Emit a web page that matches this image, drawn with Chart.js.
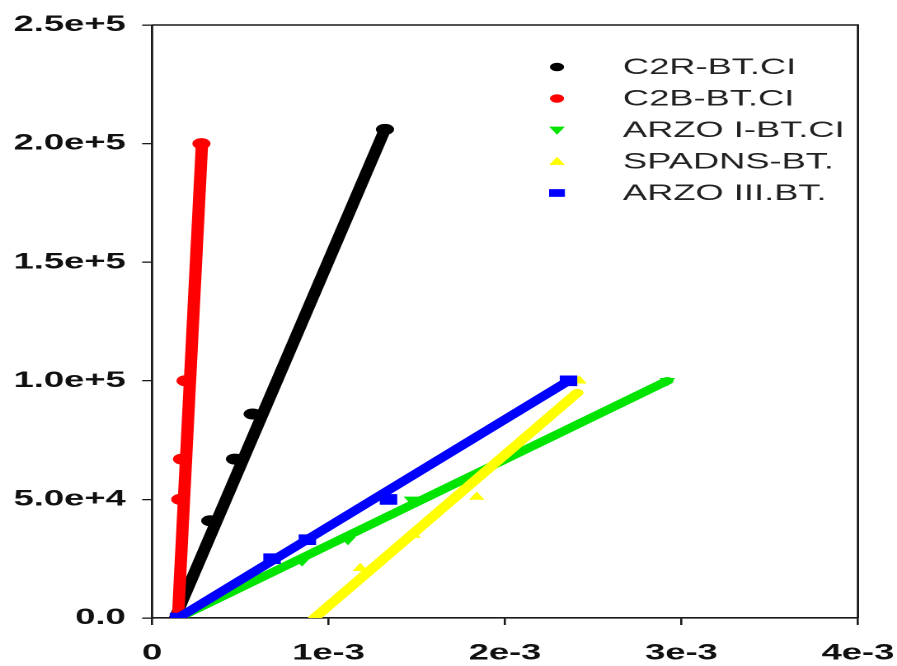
<!DOCTYPE html>
<html>
<head>
<meta charset="utf-8">
<script src="https://cdn.jsdelivr.net/npm/chart.js@4.4.1/dist/chart.umd.min.js"></script>
<style>
  html, body { margin: 0; padding: 0; background: #fff; overflow: hidden; }
  /* the plot is drawn narrow and widened sideways, like the exported figure */
  #wrap {
    width: 544px;
    height: 666px;
    transform: scaleX(1.6489);
    transform-origin: 0 0;
  }
</style>
</head>
<body>
<div id="wrap"><canvas id="plot" width="544" height="666"></canvas></div>
<script>
const X_TICKS = ['0', '1e-3', '2e-3', '3e-3', '4e-3'];
const Y_TICKS = ['0.0', '5.0e+4', '1.0e+5', '1.5e+5', '2.0e+5', '2.5e+5'];

const SERIES_NAMES  = ['C2R-BT.CI', 'C2B-BT.CI', 'ARZO I-BT.CI', 'SPADNS-BT.', 'ARZO III.BT.'];
const SERIES_COLORS = ['#000000', '#ff0000', '#00e400', '#ffff00', '#0000ff'];
const SERIES_SHAPES = ['circle', 'circle', 'triangle', 'triangle', 'rect'];
const SERIES_ROTATE = [0, 0, 180, 0, 0];

// measured points
const C2R_X   = [0.15e-3, 0.33e-3, 0.47e-3, 0.57e-3, 1.32e-3];
const C2R_Y   = [0, 4.1e4, 6.7e4, 8.6e4, 2.06e5];
const C2B_X   = [0.15e-3, 0.16e-3, 0.17e-3, 0.19e-3, 0.28e-3];
const C2B_Y   = [0, 5.0e4, 6.7e4, 1.0e5, 2.0e5];
const ARZO1_X = [0.15e-3, 0.85e-3, 1.11e-3, 1.47e-3, 2.92e-3];
const ARZO1_Y = [0, 2.4e4, 3.3e4, 5.0e4, 1.0e5];
const SPAD_X  = [0.93e-3, 1.18e-3, 1.48e-3, 1.84e-3, 2.42e-3];
const SPAD_Y  = [0, 2.1e4, 3.5e4, 5.1e4, 1.0e5];
const ARZO3_X = [0.15e-3, 0.68e-3, 0.88e-3, 1.34e-3, 2.36e-3];
const ARZO3_Y = [0, 2.5e4, 3.3e4, 5.0e4, 1.0e5];

// fitted lines, end to end
const C2R_FIT_X   = [0.13e-3, 1.32e-3];
const C2R_FIT_Y   = [0, 2.06e5];
const C2B_FIT_X   = [0.147e-3, 0.283e-3];
const C2B_FIT_Y   = [0, 2.0e5];
const ARZO1_FIT_X = [0.147e-3, 2.92e-3];
const ARZO1_FIT_Y = [0, 1.0e5];
const SPAD_FIT_X  = [0.92e-3, 2.41e-3];
const SPAD_FIT_Y  = [0, 9.5e4];
const ARZO3_FIT_X = [0.147e-3, 2.36e-3];
const ARZO3_FIT_Y = [0, 1.0e5];

const POINTS = [[C2R_X, C2R_Y], [C2B_X, C2B_Y], [ARZO1_X, ARZO1_Y], [SPAD_X, SPAD_Y], [ARZO3_X, ARZO3_Y]];
const FITS = [[C2R_FIT_X, C2R_FIT_Y], [C2B_FIT_X, C2B_FIT_Y], [ARZO1_FIT_X, ARZO1_FIT_Y],
              [SPAD_FIT_X, SPAD_FIT_Y], [ARZO3_FIT_X, ARZO3_FIT_Y]];
// stacking: blue on top, then yellow, red, black, green at the bottom
const LAYER = [4, 3, 5, 2, 1];

const FONT = "'Liberation Sans', Arial, sans-serif";
const AXIS_COLOR = '#1a1a1a';

const toXY = (xs, ys) => xs.map((x, i) => ({ x, y: ys[i] }));

const datasets = [];
SERIES_NAMES.forEach((name, i) => {
  datasets.push({
    label: name + ' fit',
    data: toXY(FITS[i][0], FITS[i][1]),
    showLine: true,
    borderColor: SERIES_COLORS[i],
    borderWidth: 7.5,
    borderCapStyle: 'round',
    pointRadius: 0,
    order: LAYER[i] * 2,
  });
  datasets.push({
    label: name,
    data: toXY(POINTS[i][0], POINTS[i][1]),
    showLine: false,
    pointStyle: SERIES_SHAPES[i],
    rotation: SERIES_ROTATE[i],
    pointRadius: SERIES_SHAPES[i] === 'rect' ? 7.5 : 5.5,
    pointBackgroundColor: SERIES_COLORS[i],
    pointBorderColor: SERIES_COLORS[i],
    pointBorderWidth: 0,
    order: LAYER[i] * 2 - 1,
  });
});

// closes the box on the top and right sides
const frame = {
  id: 'frame',
  afterDraw(chart) {
    const { ctx, chartArea: a } = chart;
    ctx.save();
    ctx.strokeStyle = AXIS_COLOR;
    ctx.lineWidth = 1.4;
    ctx.beginPath();
    ctx.moveTo(a.left, a.top);
    ctx.lineTo(a.right, a.top);
    ctx.lineTo(a.right, a.bottom);
    ctx.stroke();
    ctx.restore();
  },
};

function drawMarker(ctx, shape, rot, x, y, r) {
  ctx.beginPath();
  if (shape === 'circle') {
    ctx.arc(x, y, r, 0, Math.PI * 2);
  } else if (shape === 'rect') {
    ctx.rect(x - r, y - r * 0.8, r * 2, r * 1.6);
  } else {
    const d = rot === 180 ? -1 : 1;
    ctx.moveTo(x, y - d * r);
    ctx.lineTo(x + r, y + d * r * 0.7);
    ctx.lineTo(x - r, y + d * r * 0.7);
    ctx.closePath();
  }
  ctx.fill();
}

// legend in the upper right corner of the plot
const legendBox = {
  id: 'legendBox',
  afterDraw(chart) {
    const ctx = chart.ctx;
    const mx = 337.8, tx = 377.8, y0 = 67, dy = 31.5;
    ctx.save();
    ctx.font = '22px ' + FONT;
    ctx.textBaseline = 'middle';
    ctx.textAlign = 'left';
    SERIES_NAMES.forEach((name, i) => {
      const y = y0 + i * dy;
      ctx.fillStyle = SERIES_COLORS[i];
      drawMarker(ctx, SERIES_SHAPES[i], SERIES_ROTATE[i], mx, y, SERIES_SHAPES[i] === 'circle' ? 4.3 : 4.8);
      ctx.fillStyle = '#222';
      ctx.fillText(name, tx, y + 1);
    });
    ctx.restore();
  },
};

new Chart(document.getElementById('plot'), {
  type: 'scatter',
  data: { datasets },
  plugins: [frame, legendBox],
  options: {
    responsive: false,
    animation: false,
    devicePixelRatio: 2,
    layout: { padding: { top: 25, right: 23.7, bottom: 0, left: 0 } },
    plugins: {
      legend: { display: false },
      tooltip: { enabled: false },
    },
    scales: {
      x: {
        type: 'linear',
        min: 0,
        max: 4e-3,
        afterFit: s => { s.height = 48; s.paddingLeft = 0; s.paddingRight = 0; },
        afterBuildTicks: s => { s.ticks = X_TICKS.map((_, i) => ({ value: i * 1e-3 })); },
        ticks: {
          callback: (v, i) => X_TICKS[i],
          color: '#111',
          font: { family: FONT, size: 22, weight: 'bold' },
          padding: 15,
          maxRotation: 0,
          autoSkip: false,
        },
        grid: { drawOnChartArea: false, tickLength: 7, color: AXIS_COLOR, lineWidth: 1.3 },
        border: { display: true, color: AXIS_COLOR, width: 1.6 },
      },
      y: {
        type: 'linear',
        min: 0,
        max: 2.5e5,
        afterFit: s => { s.width = 92.2; s.paddingTop = 0; s.paddingBottom = 0; },
        afterBuildTicks: s => { s.ticks = Y_TICKS.map((_, i) => ({ value: i * 5e4 })); },
        ticks: {
          callback: (v, i) => Y_TICKS[i],
          color: '#111',
          font: { family: FONT, size: 22, weight: 'bold' },
          padding: 10,
          autoSkip: false,
        },
        grid: { drawOnChartArea: false, tickLength: 6, color: AXIS_COLOR, lineWidth: 1.3 },
        border: { display: true, color: AXIS_COLOR, width: 1.4 },
      },
    },
  },
});
</script>
</body>
</html>
